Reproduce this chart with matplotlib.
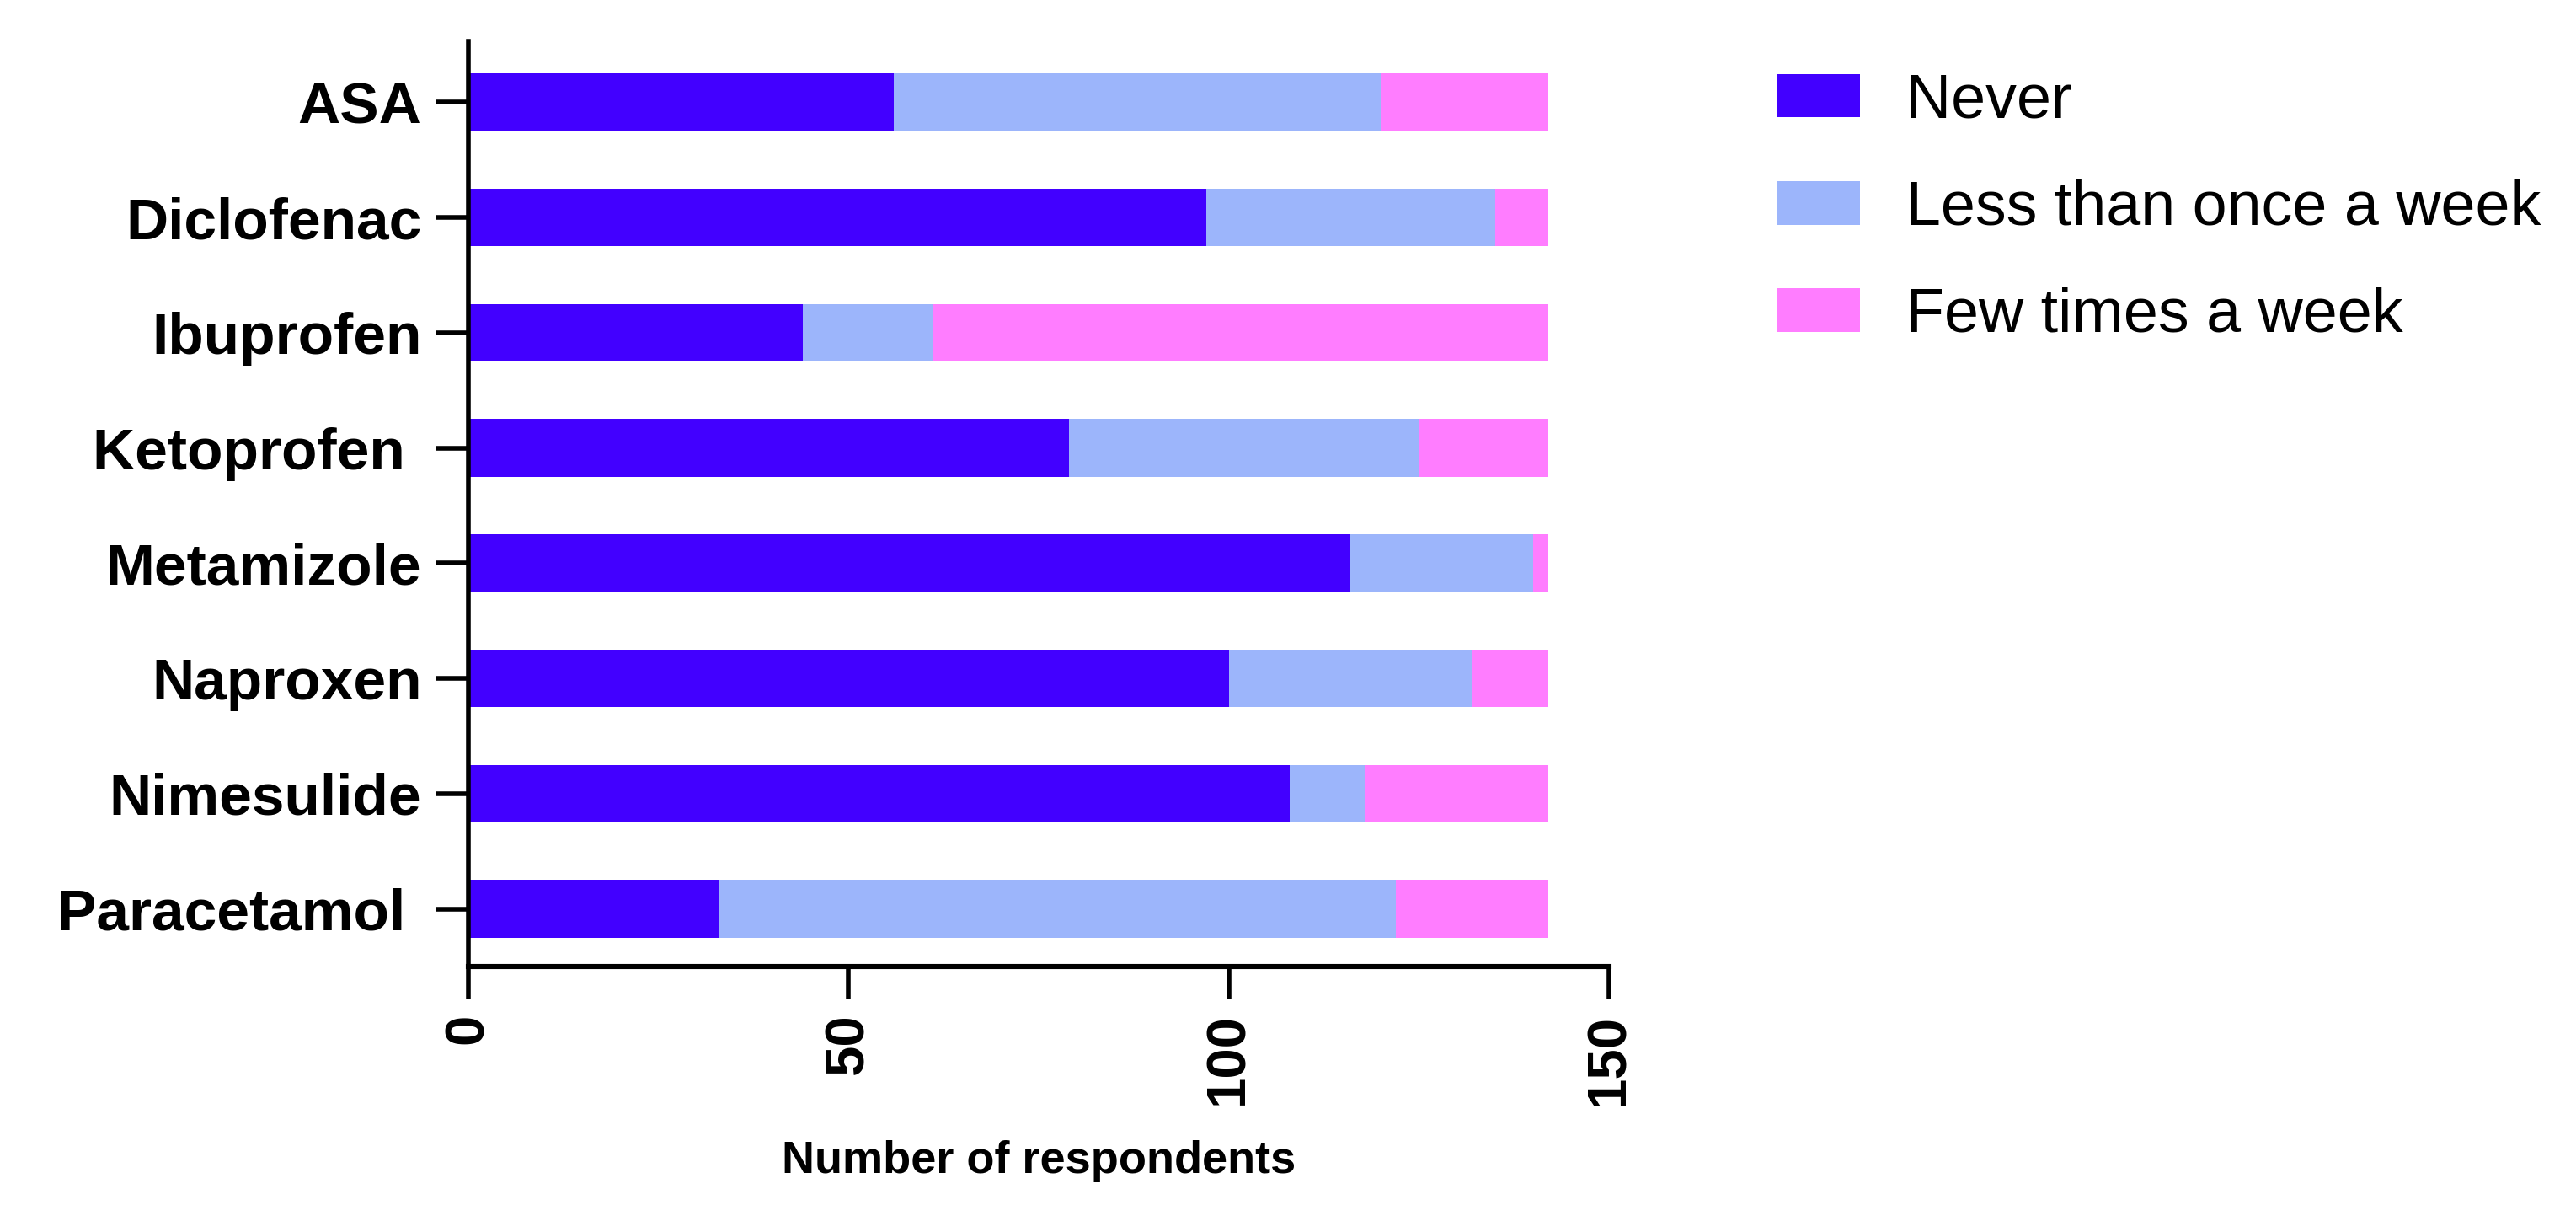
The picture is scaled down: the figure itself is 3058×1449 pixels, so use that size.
import matplotlib
matplotlib.use("Agg")
import matplotlib.pyplot as plt
import numpy as np

plt.rcParams["font.family"] = ["Liberation Sans", "DejaVu Sans"]

drugs = ["ASA", "Diclofenac", "Ibuprofen", "Ketoprofen ", "Metamizole",
         "Naproxen", "Nimesulide", "Paracetamol "]
never = [56, 97, 44, 79, 116, 100, 108, 33]
less_than_weekly = [64, 38, 17, 46, 24, 32, 10, 89]
few_times_weekly = [22, 7, 81, 17, 2, 10, 24, 20]

series_names = ["Never", "Less than once a week", "Few times a week"]
colors = ["#4200FF", "#9CB5FB", "#FF7DFF"]

fig = plt.figure(figsize=(15.29, 7.245), dpi=200)
ax = fig.add_axes([0.1818, 0.2084, 0.4428, 0.7578])

y = np.arange(len(drugs))
left = np.zeros(len(drugs))
for name, vals, col in zip(series_names, [never, less_than_weekly, few_times_weekly], colors):
    ax.barh(y, vals, left=left, height=0.5, color=col, label=name, linewidth=0)
    left += np.array(vals)

ax.set_ylim(7.5, -0.53)
ax.set_xlim(0, 150)
ax.set_xticks([0, 50, 100, 150])
ax.set_yticks(y)
ax.set_yticklabels(drugs, fontsize=25, fontweight="bold")
for lab in ax.get_xticklabels():
    lab.set_rotation(90)
    lab.set_fontsize(23.5)
    lab.set_fontweight("bold")
    lab.set_va("top")
    lab.set_ha("center")

ax.spines["top"].set_visible(False)
ax.spines["right"].set_visible(False)
ax.spines["left"].set_linewidth(2)
ax.spines["bottom"].set_linewidth(2.2)
ax.tick_params(axis="both", length=14, width=2, pad=6)

ax.set_xlabel("Number of respondents", fontsize=19.5, fontweight="bold", labelpad=15)

fig.legend(loc="upper left", bbox_to_anchor=(0.690, 0.941), frameon=False,
           fontsize=26.5, handlelength=1.33, handleheight=0.70, handletextpad=0.75,
           labelspacing=0.79, borderpad=0, borderaxespad=0)

fig.savefig("out.png", dpi=200)
